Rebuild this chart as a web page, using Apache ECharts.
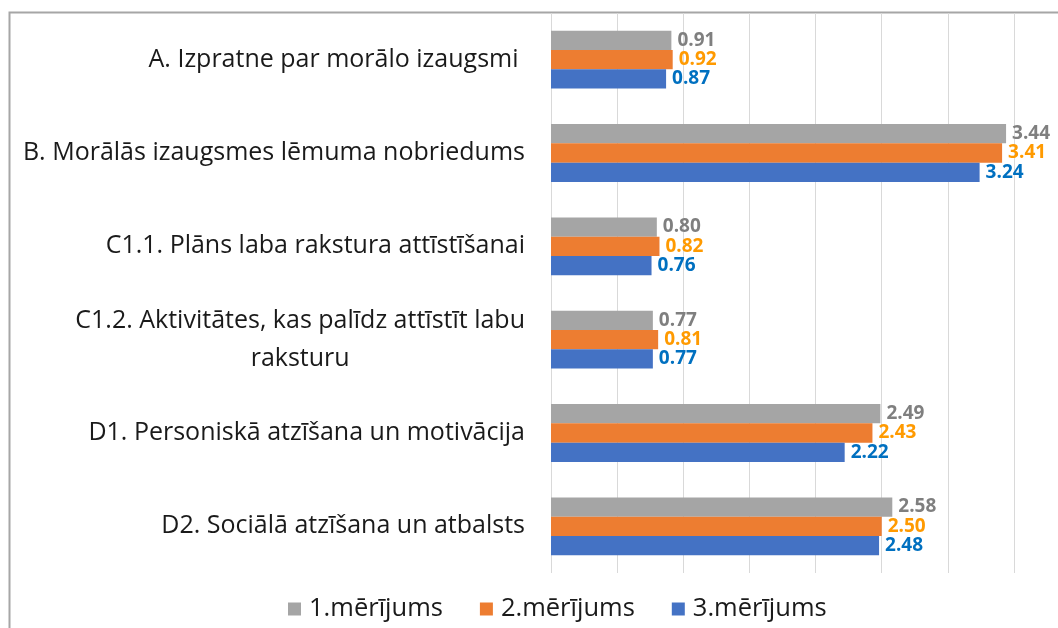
<!DOCTYPE html>
<html><head><meta charset="utf-8">
<script src="https://cdn.jsdelivr.net/npm/echarts@6/dist/echarts.min.js"></script>
<style>html,body{margin:0;padding:0;background:#fff}#c{width:1058px;height:628px}</style>
</head><body><div id="c"></div>
<script>
const categories = [
  "A. Izpratne par morālo izaugsmi ",
  "B. Morālās izaugsmes lēmuma nobriedums",
  "C1.1. Plāns laba rakstura attīstīšanai",
  "C1.2. Aktivitātes, kas palīdz attīstīt labu\nraksturu",
  "D1. Personiskā atzīšana un motivācija",
  "D2. Sociālā atzīšana un atbalsts"
];
const seriesNames = ["1.mērījums", "2.mērījums", "3.mērījums"];
const m1 = [0.91, 3.44, 0.80, 0.77, 2.49, 2.58];
const m2 = [0.92, 3.41, 0.82, 0.81, 2.43, 2.50];
const m3 = [0.87, 3.24, 0.76, 0.77, 2.22, 2.48];
const barColors = ["#A5A5A5", "#ED7D31", "#4472C4"];
const labelColors = ["#7F7F7F", "#FF9A00", "#0070C0"];
const values = [m1, m2, m3];

const FONT = "Open Sans";
const CAT_SIZE = 25;
function textWidth(t, size) {
  const c = document.createElement('canvas').getContext('2d');
  c.font = size + 'px "' + FONT + '"';
  return c.measureText(t).width;
}
const chart = echarts.init(document.getElementById('c'), null, {renderer: 'canvas'});
chart.setOption({
  animation: false,
  backgroundColor: '#fff',
  textStyle: {fontFamily: FONT},
  grid: {left: 551, right: 44, top: 13, bottom: 55},
  legend: {
    top: 596, left: 288, padding: 0,
    itemWidth: 13, itemHeight: 13, itemGap: 37,
    icon: 'rect',
    textStyle: {fontSize: 25.5, color: '#1a1a1a', fontFamily: FONT, padding: [0, 0, 0, 3]},
    data: seriesNames
  },
  xAxis: {
    type: 'value', min: 0, max: 3.5, interval: 0.5,
    axisLabel: {show: false}, axisLine: {show: false}, axisTick: {show: false},
    splitLine: {lineStyle: {color: '#D9D9D9', width: 1}}
  },
  yAxis: {
    type: 'category', data: categories, inverse: true,
    axisLine: {show: false}, axisTick: {show: false},
    axisLabel: {
      margin: 26, fontSize: CAT_SIZE, color: '#1a1a1a', fontFamily: FONT, lineHeight: 38,
      formatter: function (v) {
        if (v.indexOf('\n') >= 0) {
          const parts = v.split('\n');
          return '{a|' + parts[0] + '}\n{b|' + parts[1] + '}';
        }
        return v;
      },
      rich: {
        a: {fontSize: CAT_SIZE, color: '#1a1a1a', fontFamily: FONT, lineHeight: 38},
        b: {fontSize: CAT_SIZE, color: '#1a1a1a', fontFamily: FONT, lineHeight: 38,
            width: textWidth("C1.2. Aktivitātes, kas palīdz attīstīt labu", CAT_SIZE), align: 'center'}
      }
    }
  },
  series: values.map((d, i) => ({
    name: seriesNames[i], type: 'bar', data: d,
    barGap: '0%', barCategoryGap: '38%',
    itemStyle: {color: barColors[i]},
    label: {
      show: true, position: 'right', distance: 6,
      formatter: p => p.value.toFixed(2),
      color: labelColors[i], fontWeight: 'bold', fontSize: 19, fontFamily: FONT
    }
  })),
  graphic: [{
    type: 'polyline',
    shape: {points: [[9.5, 628], [9.5, 12.5], [1058, 12.5]]},
    style: {stroke: '#A6A6A6', lineWidth: 2, fill: null},
    silent: true
  }]
});
</script></body></html>
